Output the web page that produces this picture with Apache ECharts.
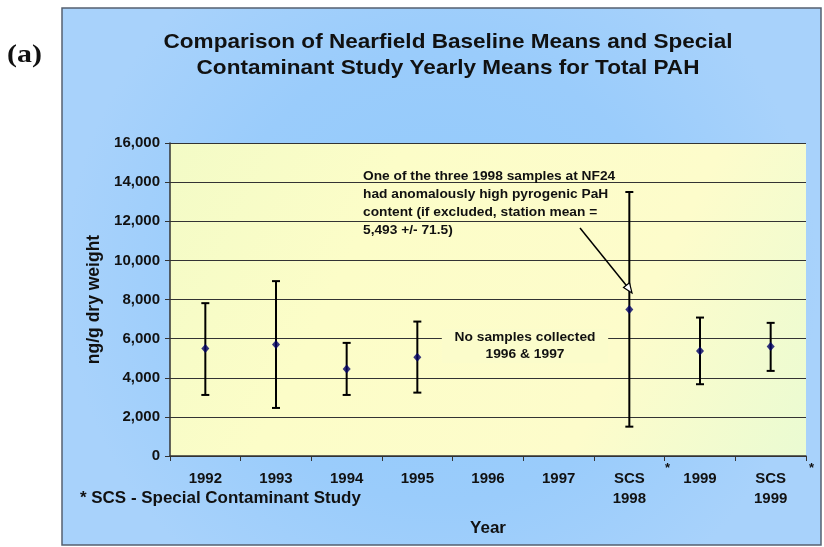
<!DOCTYPE html>
<html><head><meta charset="utf-8">
<script src="https://cdn.jsdelivr.net/npm/echarts@6/dist/echarts.min.js"></script>
<style>html,body{margin:0;padding:0;background:#fff}#c{width:824px;height:547px}</style>
</head><body><div id="c"></div>
<script>
const categories = ['1992','1993','1994','1995','1996','1997','SCS\n1998','1999','SCS\n1999'];
const means = [5490, 5695, 4452, 5050, null, null, 7486, 5373, 5593];
const lows  = [3121, 2456, 3121, 3240, null, null, 1500, 3669, 4350];
const highs = [7813, 8939, 5782, 6872, null, null, 13494, 7077, 6806];
const yTicks = {min: 0, max: 16000, interval: 2000};

const errData = [];
categories.forEach((c, i) => { if (means[i] != null) errData.push([i, lows[i], highs[i]]); });

const chart = echarts.init(document.getElementById('c'));
const F = '"Liberation Sans", Arial, sans-serif';
chart.setOption({
  animation: false,
  backgroundColor: '#fff',
  grid: {left: 170, right: 18, top: 143, bottom: 91, show: true,
    backgroundColor: new echarts.graphic.LinearGradient(0, 0, 1, 1, [
      {offset: 0, color: '#f3fbc6'}, {offset: 0.3, color: '#fcfdc8'},
      {offset: 0.7, color: '#fdfccb'}, {offset: 1, color: '#eafbd2'}]),
    borderWidth: 0},
  xAxis: {
    type: 'category', data: categories, boundaryGap: true,
    name: 'Year', nameLocation: 'middle', nameGap: 64,
    nameTextStyle: {fontFamily: F, fontSize: 17, fontWeight: 'bold', color: '#111'},
    axisLine: {lineStyle: {color: '#333', width: 1.5}},
    axisTick: {show: true, length: 5, lineStyle: {color: '#333'}},
    axisLabel: {fontFamily: F, fontSize: 15, fontWeight: 'bold', color: '#111', margin: 13, lineHeight: 20, verticalAlign: 'top'},
    splitLine: {show: false}
  },
  yAxis: {
    type: 'value', min: yTicks.min, max: yTicks.max, interval: yTicks.interval,
    name: 'ng/g dry weight', nameLocation: 'middle', nameGap: 62, nameRotate: 90,
    nameTextStyle: {fontFamily: F, fontSize: 17.5, fontWeight: 'bold', color: '#111'},
    axisLine: {show: true, lineStyle: {color: '#333', width: 1.5}},
    axisTick: {show: true, length: 5, lineStyle: {color: '#333'}},
    axisLabel: {fontFamily: F, fontSize: 15, fontWeight: 'bold', color: '#111', margin: 10,
      formatter: v => v.toLocaleString('en-US')},
    splitLine: {show: true, lineStyle: {color: '#333', width: 1}}
  },
  series: [
    {
      type: 'custom', name: 'err', data: errData, z: 3,
      renderItem: function (params, api) {
        const x = api.value(0);
        const lo = api.coord([x, api.value(1)]);
        const hi = api.coord([x, api.value(2)]);
        const w = 4;
        const st = {stroke: '#000', lineWidth: 2};
        return {type: 'group', children: [
          {type: 'line', shape: {x1: lo[0], y1: lo[1], x2: hi[0], y2: hi[1]}, style: st},
          {type: 'line', shape: {x1: lo[0]-w, y1: lo[1], x2: lo[0]+w, y2: lo[1]}, style: st},
          {type: 'line', shape: {x1: hi[0]-w, y1: hi[1], x2: hi[0]+w, y2: hi[1]}, style: st}
        ]};
      }
    },
    {
      type: 'scatter', name: 'mean', data: means, z: 4,
      symbol: 'diamond', symbolSize: [8, 9],
      itemStyle: {color: '#000066'}
    }
  ],
  graphic: [
    {type: 'rect', z: -10, silent: true, shape: {x: 62, y: 8, width: 759, height: 537},
      style: {fill: new echarts.graphic.RadialGradient(0.5, 0.5, 0.7, [
        {offset: 0, color: '#92cafb'}, {offset: 0.6, color: '#9accfb'}, {offset: 1, color: '#a8d2fb'}]),
        stroke: '#556070', lineWidth: 1.5}},
    {type: 'text', x: 448, y: 29, scaleX: 1.1, z: 10, style: {
      text: 'Comparison of Nearfield Baseline Means and Special\nContaminant Study Yearly Means for Total PAH',
      align: 'center', font: 'bold 20.5px ' + F, fill: '#111', lineHeight: 26}},
    {type: 'text', x: 7, y: 42, scaleX: 1.15, style: {text: '(a)', font: 'bold 26px "Liberation Serif", "Times New Roman", serif', fill: '#111'}},
    {type: 'text', x: 80, y: 491, scaleX: 1.06, style: {text: '* SCS - Special Contaminant Study', font: 'bold 16px ' + F, fill: '#111'}},
    {type: 'text', x: 665, y: 462, style: {text: '*', font: 'bold 13px ' + F, fill: '#111'}},
    {type: 'text', x: 809, y: 462, style: {text: '*', font: 'bold 13px ' + F, fill: '#111'}},
    {type: 'text', x: 363, y: 168, scaleX: 1.1, z: 10, style: {
      text: 'One of the three 1998 samples at NF24\nhad anomalously high pyrogenic PaH\ncontent (if excluded, station mean =\n5,493 +/- 71.5)',
      font: 'bold 12.5px ' + F, fill: '#111', lineHeight: 18}},
    {type: 'text', x: 525, y: 329, scaleX: 1.06, z: 10, style: {
      text: 'No samples collected\n1996 & 1997', align: 'center',
      font: 'bold 13px ' + F, fill: '#111', lineHeight: 17,
      backgroundColor: '#fbfccb', padding: [0, 12, 0, 12]}},
    {type: 'line', z: 10, shape: {x1: 580, y1: 228, x2: 630, y2: 290},
      style: {stroke: '#000', lineWidth: 1.5}},
    {type: 'polygon', z: 10, shape: {points: [[632, 293], [623.5, 287.5], [629.5, 282.7]]},
      style: {fill: '#fff', stroke: '#000', lineWidth: 1.2}}
  ]
});
</script></body></html>
